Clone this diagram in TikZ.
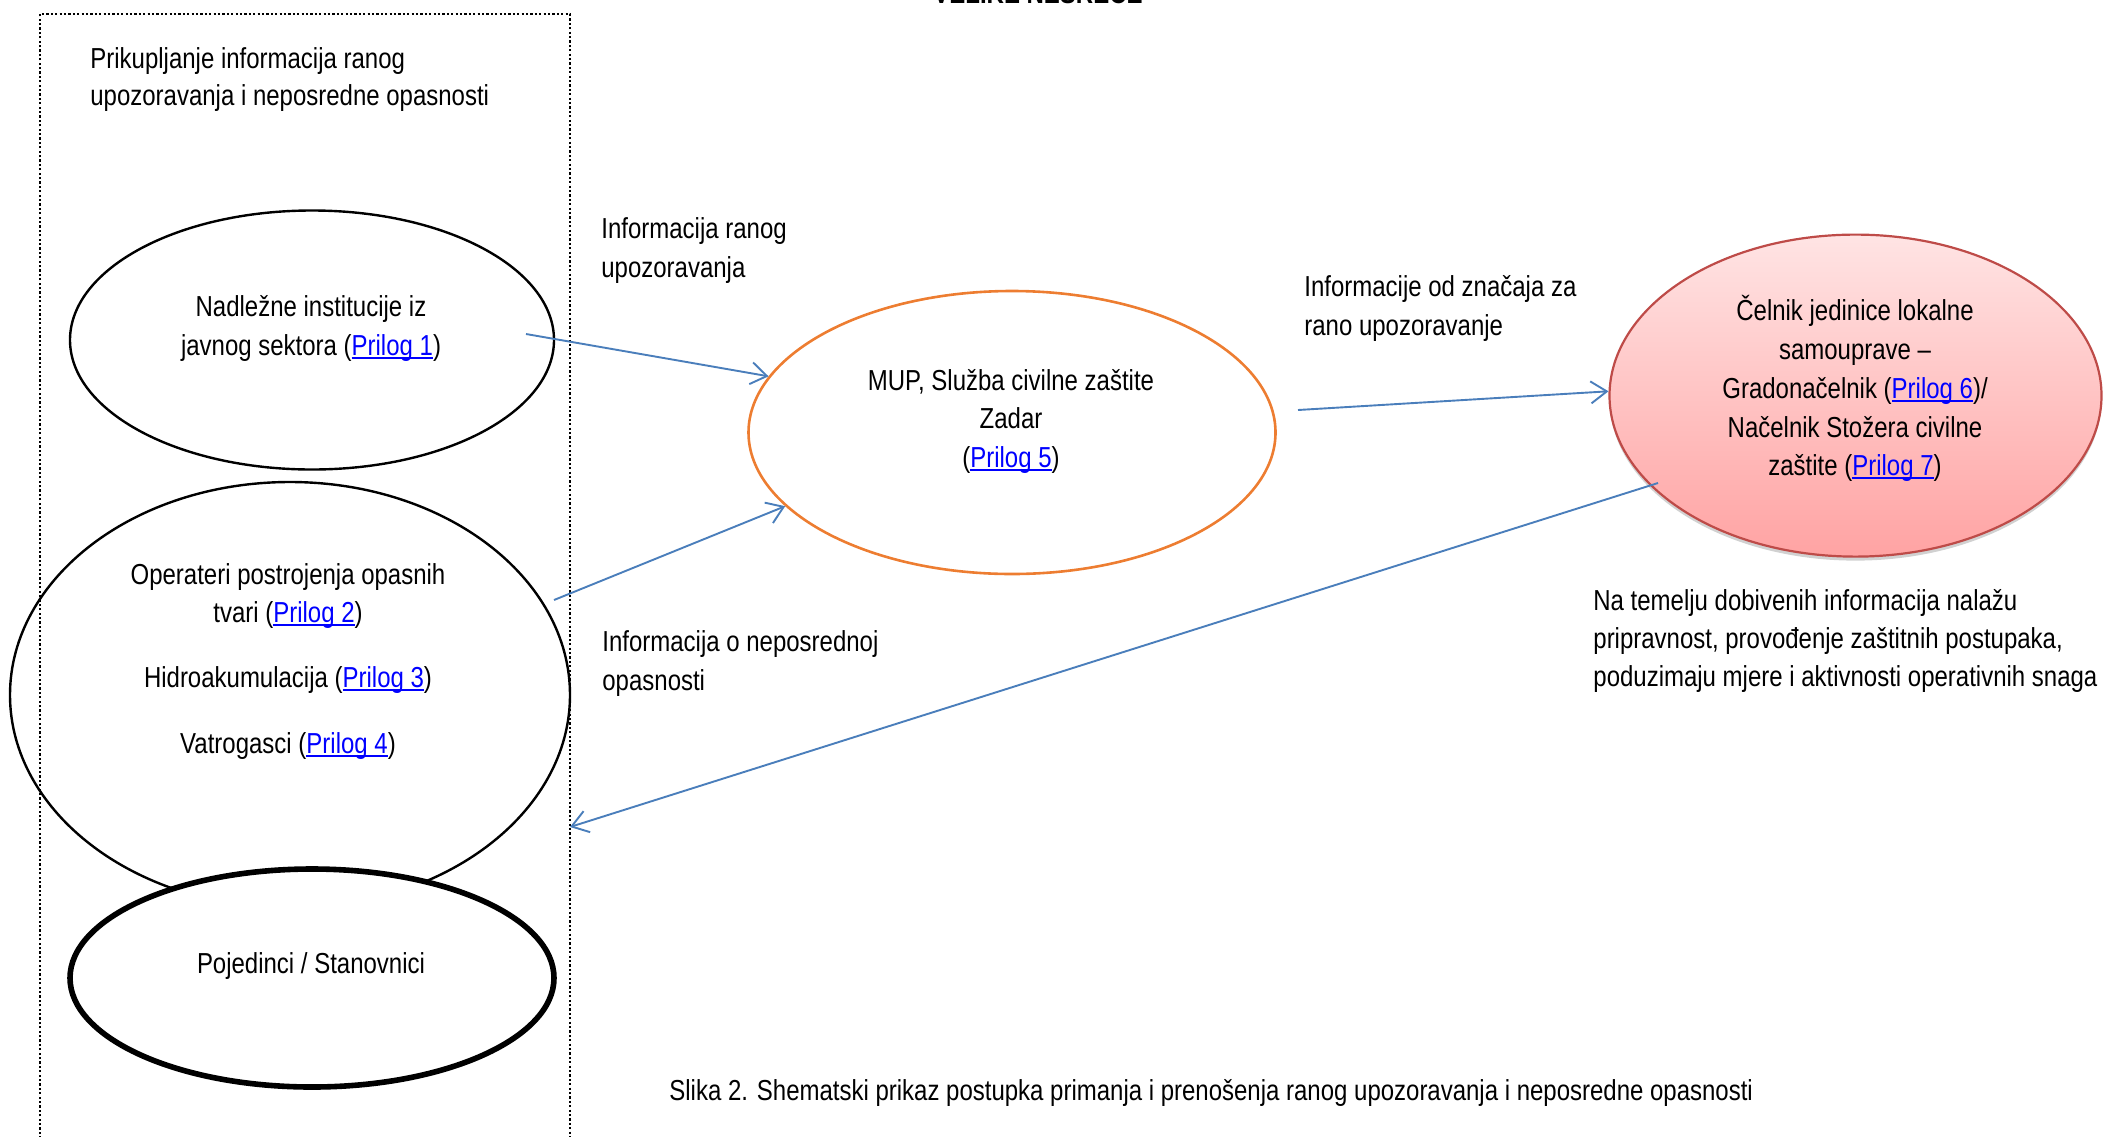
\documentclass[tikz,border=0pt]{standalone}
\usepackage{fontspec}
\setmainfont[FakeStretch=0.83]{Liberation Sans}
\usetikzlibrary{arrows.meta,shapes.geometric,shadows}
\definecolor{arrowblue}{HTML}{4A7EBB}
\definecolor{muporange}{HTML}{ED7D31}
\definecolor{redborder}{HTML}{BE4B48}
\definecolor{redtop}{HTML}{FFE4E4}
\definecolor{redbot}{HTML}{FFA3A3}
\definecolor{linkblue}{HTML}{0000FF}
\newsavebox{\lnkbox}
\newcommand{\lnk}[1]{{\color{linkblue}\sbox{\lnkbox}{#1}\rlap{\rule[-1.8pt]{\wd\lnkbox}{0.7pt}}\usebox{\lnkbox}}}
\begin{document}
\begin{tikzpicture}[x=0.5pt,y=-0.5pt,
  font=\fontsize{14.45}{16}\selectfont,
  ctxt/.style={inner sep=0pt, anchor=base},
  ltxt/.style={inner sep=0pt, anchor=base west},
  ell/.style={ellipse, draw=black, line width=1.2pt, inner sep=0pt},
  conn/.style={draw=arrowblue, line width=0.95pt, -{Straight Barb[length=8pt,width=11pt]}},
  dotbox/.style={draw=black, line width=1.1pt, dash pattern=on 1.1pt off 1.1pt}]
\useasboundingbox (0,0) rectangle (2103,1136);
% partially visible title
\node[ctxt, font=\fontsize{14.45}{16}\selectfont\bfseries] (title) at (1038,3) {VELIKE NESREĆE};
% dotted box
\draw[dotbox] (40,1200) -- (40,14) -- (570,14) -- (570,1200);
\node[ltxt] (pk1) at (90,68) {Prikupljanje informacija ranog};
\node[ltxt] (pk2) at (90,105) {upozoravanja i neposredne opasnosti};
% ellipses left
\node[ell, minimum width=280pt, minimum height=213pt] (oper) at (290,695) {};
\node[ell, minimum width=242pt, minimum height=129.5pt] (nad) at (312,340) {};
\node[ell, fill=white, line width=2.8pt, minimum width=242pt, minimum height=109pt] (poj) at (312,978) {};
% MUP
\node[ellipse, draw=muporange, line width=1.3pt, inner sep=0pt, minimum width=263.5pt, minimum height=141.5pt] (mup) at (1012,432.5) {};
% red
\node[ellipse, draw=redborder, line width=1.1pt, inner sep=0pt, top color=redtop, bottom color=redbot,
  drop shadow={shadow xshift=0pt, shadow yshift=-2pt, opacity=0.3, fill=black!60},
  minimum width=246pt, minimum height=161pt] (red) at (1855.5,395.6) {};
% texts in ellipses
\node[ctxt] (nadt1) at (311,316) {Nadležne institucije iz};
\node[ctxt] (nadt2) at (311,355) {javnog sektora (\lnk{Prilog 1})};
\node[ctxt] (opt1) at (288,584) {Operateri postrojenja opasnih};
\node[ctxt] (opt2) at (288,622) {tvari (\lnk{Prilog 2})};
\node[ctxt] (opt3) at (288,687) {Hidroakumulacija (\lnk{Prilog 3})};
\node[ctxt] (opt4) at (288,753) {Vatrogasci (\lnk{Prilog 4})};
\node[ctxt] (pojt) at (311,973) {Pojedinci / Stanovnici};
\node[ctxt] (mupt1) at (1011,390) {MUP, Služba civilne zaštite};
\node[ctxt] (mupt2) at (1011,428) {Zadar};
\node[ctxt] (mupt3) at (1011,467) {(\lnk{Prilog 5})};
\node[ctxt] (redt1) at (1855,320) {Čelnik jedinice lokalne};
\node[ctxt] (redt2) at (1855,359) {samouprave –};
\node[ctxt] (redt3) at (1855,398) {Gradonačelnik (\lnk{Prilog 6})/};
\node[ctxt] (redt4) at (1855,437) {Načelnik Stožera civilne};
\node[ctxt] (redt5) at (1855,475) {zaštite (\lnk{Prilog 7})};
% labels
\node[ltxt] (l1a) at (601,238) {Informacija ranog};
\node[ltxt] (l1b) at (601,277) {upozoravanja};
\node[ltxt] (l2a) at (602,651) {Informacija o neposrednoj};
\node[ltxt] (l2b) at (602,690) {opasnosti};
\node[ltxt] (l3a) at (1304,296) {Informacije od značaja za};
\node[ltxt] (l3b) at (1304,335) {rano upozoravanje};
\node[ltxt] (l4a) at (1593,610) {Na temelju dobivenih informacija nalažu};
\node[ltxt] (l4b) at (1593,648) {pripravnost, provođenje zaštitnih postupaka,};
\node[ltxt] (l4c) at (1593,686) {poduzimaju mjere i aktivnosti operativnih snaga};
\node[ltxt] (cap) at (669,1100) {Slika 2. Shematski prikaz postupka primanja i prenošenja ranog upozoravanja i neposredne opasnosti};
% connectors
\coordinate (a1s) at (526,334);
\coordinate (a2s) at (554,600);
\coordinate (a3s) at (1298,410);
\coordinate (a4s) at (1658,483);
\coordinate (a4e) at (570,827);
\draw[conn] (a1s) -- (mup.167.5);
\draw[conn] (a2s) -- (mup.198.6);
\draw[conn] (a3s) -- (red.179);
\draw[conn] (a4s) -- (a4e);
\end{tikzpicture}
\end{document}
